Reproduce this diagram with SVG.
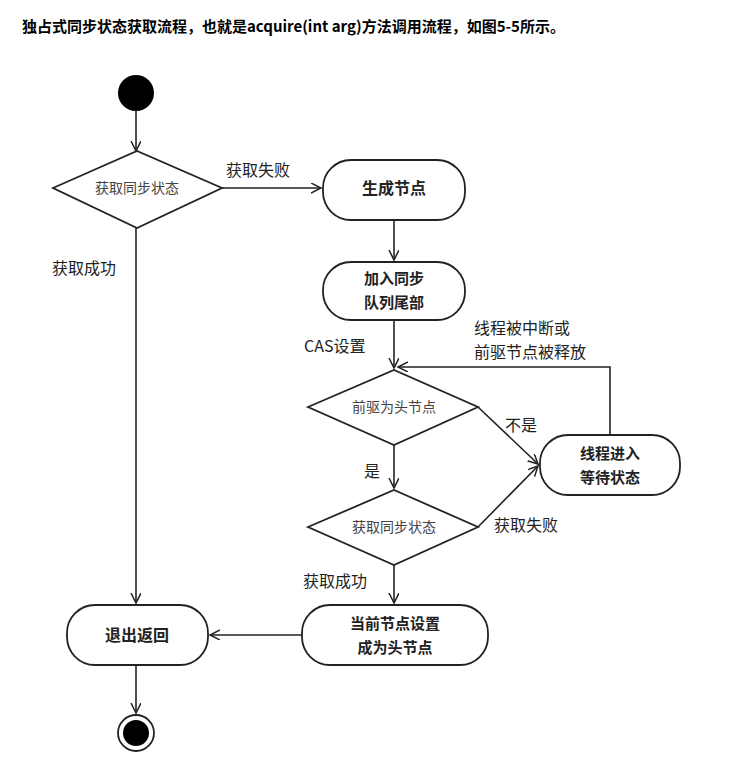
<svg xmlns="http://www.w3.org/2000/svg" width="729" height="781" viewBox="0 0 729 781">
<style>
text{font-family:"Noto Sans CJK SC","Liberation Sans",sans-serif;fill:#222}
.s{fill:#fff;stroke:#222;stroke-width:1.8}
.l{fill:none;stroke:#222;stroke-width:1.6}
.t{font-size:16px;text-anchor:middle;font-weight:bold}
.t2{font-size:15px;text-anchor:middle;font-weight:bold}
.d{font-size:14px;text-anchor:middle;fill:#444}
.lb{font-size:16px}
</style>
<defs><marker id="a" markerWidth="12" markerHeight="12" refX="10" refY="5" orient="auto" markerUnits="userSpaceOnUse"><path d="M0,0 L10,5 L0,10" fill="none" stroke="#222" stroke-width="1.5"/></marker></defs>
<rect width="729" height="781" fill="#fff"/>
<text x="22" y="32" style="font-size:15px;font-weight:bold;fill:#000">独占式同步状态获取流程，也就是acquire(int arg)方法调用流程，如图5-5所示。</text>
<g id="connectors" class="l">
<line x1="136" y1="111" x2="136" y2="151" marker-end="url(#a)"/>
<line x1="222" y1="188" x2="321" y2="188" marker-end="url(#a)"/>
<line x1="136" y1="228" x2="136" y2="603" marker-end="url(#a)"/>
<line x1="394" y1="220" x2="394" y2="260" marker-end="url(#a)"/>
<line x1="394" y1="320" x2="394" y2="368" marker-end="url(#a)"/>
<polyline points="610,435 610,367 398,367" marker-end="url(#a)"/>
<line x1="478" y1="407" x2="538" y2="464" marker-end="url(#a)"/>
<line x1="478" y1="527" x2="538" y2="466" marker-end="url(#a)"/>
<line x1="394" y1="445" x2="394" y2="488" marker-end="url(#a)"/>
<line x1="394" y1="565" x2="394" y2="603" marker-end="url(#a)"/>
<line x1="302" y1="635" x2="210" y2="635" marker-end="url(#a)"/>
<line x1="136" y1="665" x2="136" y2="713" marker-end="url(#a)"/>
</g>
<g id="start"><circle cx="136" cy="93" r="18" fill="#000"/></g>
<g id="d1"><polygon class="s" points="53,188 137,151 222,188 137,228"/><text class="d" x="137" y="193">获取同步状态</text></g>
<g id="n1"><rect class="s" x="323" y="160" width="142" height="60" rx="28"/><text class="t" x="394" y="194">生成节点</text></g>
<g id="n2"><rect class="s" x="323" y="262" width="142" height="58" rx="28"/><text class="t2" x="394" y="284">加入同步</text><text class="t2" x="394" y="308">队列尾部</text></g>
<g id="d2"><polygon class="s" points="308,407 394,370 478,407 394,445"/><text class="d" x="394" y="412">前驱为头节点</text></g>
<g id="d3"><polygon class="s" points="308,527 394,490 478,527 394,565"/><text class="d" x="394" y="532">获取同步状态</text></g>
<g id="n3"><rect class="s" x="540" y="435" width="140" height="60" rx="28"/><text class="t2" x="610" y="459">线程进入</text><text class="t2" x="610" y="483">等待状态</text></g>
<g id="n4"><rect class="s" x="302" y="605" width="186" height="60" rx="28"/><text class="t2" x="395" y="629">当前节点设置</text><text class="t2" x="395" y="653">成为头节点</text></g>
<g id="n5"><rect class="s" x="67" y="605" width="141" height="60" rx="28"/><text class="t" x="137" y="641">退出返回</text></g>
<g id="end"><circle cx="136" cy="733" r="18" fill="#fff" stroke="#222" stroke-width="1.8"/><circle cx="136" cy="733" r="13" fill="#000"/></g>
<g id="labels" class="lb">
<text x="226" y="176">获取失败</text>
<text x="52" y="274">获取成功</text>
<text x="304" y="352">CAS设置</text>
<text x="474" y="334">线程被中断或</text>
<text x="474" y="358">前驱节点被释放</text>
<text x="505" y="431">不是</text>
<text x="364" y="477">是</text>
<text x="494" y="531">获取失败</text>
<text x="303" y="587">获取成功</text>
</g>
</svg>
